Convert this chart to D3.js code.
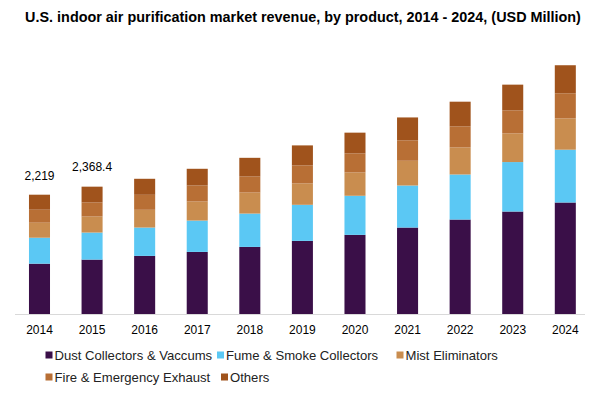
<!DOCTYPE html>
<html><head><meta charset="utf-8">
<script src="https://cdn.jsdelivr.net/npm/d3@7"></script>
<style>body{margin:0;background:#fff}svg{display:block}text{font-family:"Liberation Sans",Arial,sans-serif}</style>
</head><body><svg id="c" width="600" height="396"></svg>
<script>
const years = ["2014","2015","2016","2017","2018","2019","2020","2021","2022","2023","2024"];
const seriesNames = ["Dust Collectors & Vaccums","Fume & Smoke Collectors","Mist Eliminators","Fire & Emergency Exhaust","Others"];
const dust   = [936, 1012, 1081, 1155, 1248, 1360, 1472, 1608, 1757, 1906, 2074];
const fume   = [483, 503, 527, 583, 620, 671, 727, 782, 838, 920, 982];
const mist   = [279, 298, 330, 354, 391, 397, 434, 460, 503, 533, 583];
const fire   = [242, 261, 279, 298, 298, 335, 354, 378, 391, 428, 466];
const others = [279, 294.4, 298, 311, 348, 373, 386, 428, 460, 479, 522];
const colors = ["#3a0f48","#5bc8f4","#c98d4f","#b86f35","#a0531c"];
const totalLabels = [{year:"2014", text:"2,219"},{year:"2015", text:"2,368.4"}];

const svg = d3.select("#c");
const seriesVals = [dust, fume, mist, fire, others];
const rows = years.map((y,i)=>{const o={year:y}; seriesNames.forEach((s,j)=>o[s]=seriesVals[j][i]); return o;});
const stack = d3.stack().keys(seriesNames)(rows);

const x = d3.scaleBand().domain(years).range([13.2, 591.6]).paddingInner(0.6).paddingOuter(0.3);
const y = d3.scaleLinear().domain([0, 2219]).range([314, 194.7]);

svg.append("text").attr("x", 303).attr("y", 22).attr("text-anchor","middle")
  .style("font-size","14.4px").style("font-weight","bold").text("U.S. indoor air purification market revenue, by product, 2014 - 2024, (USD Million)");

svg.append("g").selectAll("g").data(stack).join("g").attr("fill",(d,i)=>colors[i])
  .selectAll("rect").data(d=>d).join("rect")
  .attr("x", d=>x(d.data.year)).attr("width", x.bandwidth())
  .attr("y", d=>y(d[1])).attr("height", d=>y(d[0])-y(d[1]));

const xAxis = svg.append("g").attr("transform","translate(0,314)").call(d3.axisBottom(x).tickSize(0).tickPadding(11));
xAxis.select(".domain").attr("stroke","#d9d9d9").attr("d","M15,0.5H585");
xAxis.selectAll("text").style("font-size","12px").attr("fill","#000").style("font-family","'Liberation Sans',Arial,sans-serif");

const totals = years.map((yr,i)=>d3.sum(seriesVals, s=>s[i]));
svg.append("g").selectAll("text").data(totalLabels).join("text")
  .attr("x", d=>x(d.year)+x.bandwidth()/2).attr("y", d=>y(totals[years.indexOf(d.year)]) - (d.year==="2014"?15:16))
  .attr("text-anchor","middle").style("font-size","12px").text(d=>d.text);

const legendPos = [[45.5,355],[217,355],[396.5,355],[45.5,377],[221,377]];
const lg = svg.append("g").selectAll("g").data(seriesNames).join("g")
  .attr("transform",(d,i)=>`translate(${legendPos[i][0]},${legendPos[i][1]})`);
lg.append("rect").attr("x",0).attr("y",-3.5).attr("width",7).attr("height",7).attr("fill",(d,i)=>colors[i]);
lg.append("text").attr("x",9).attr("y",4.8).style("font-size","13.1px").attr("fill","#222").text(d=>d);
</script></body></html>
